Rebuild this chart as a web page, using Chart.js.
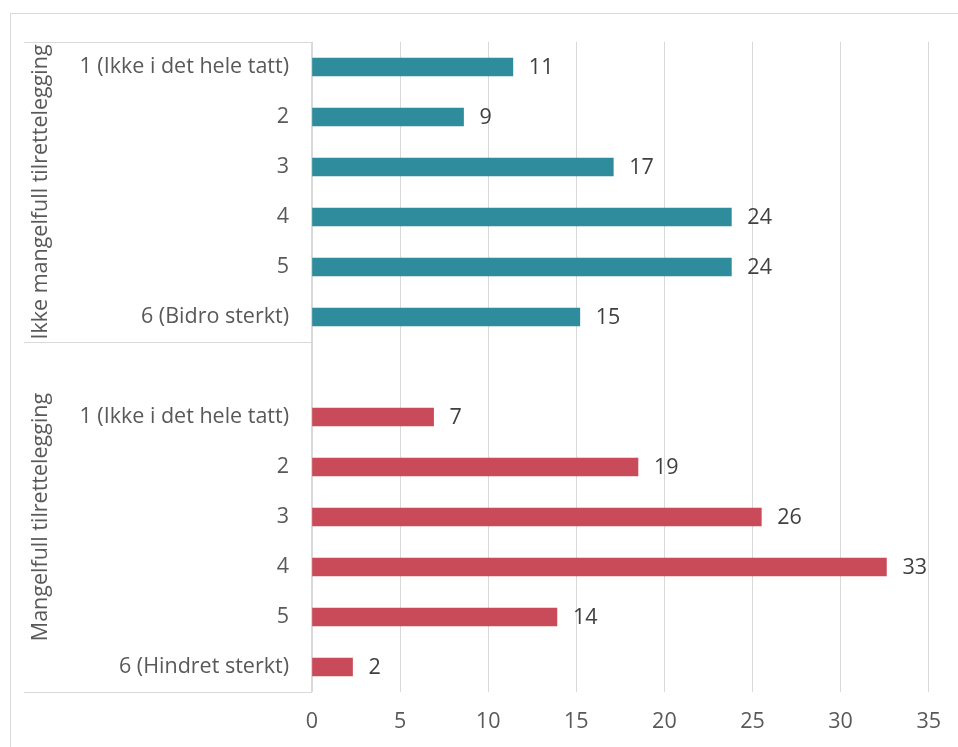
<!DOCTYPE html>
<html>
<head>
<meta charset="utf-8">
<script src="https://cdn.jsdelivr.net/npm/chart.js@4/dist/chart.umd.min.js"></script>
<style>
  html, body { margin: 0; padding: 0; background: #fff; }
  #wrap { width: 958px; height: 747px; position: relative; }
</style>
</head>
<body>
<div id="wrap"><canvas id="chart"></canvas></div>
<script>
// Category labels (blank row separates the two groups)
const categories = [
    '1 (Ikke i det hele tatt)', '2', '3', '4', '5', '6 (Bidro sterkt)',
    '',
    '1 (Ikke i det hele tatt)', '2', '3', '4', '5', '6 (Hindret sterkt)'
];
const groupNames = ['Ikke mangelfull tilrettelegging', 'Mangelfull tilrettelegging'];

// Values
const ikkeMangelfull = [11.4, 8.6, 17.1, 23.8, 23.8, 15.2];
const mangelfull = [6.9, 18.5, 25.5, 32.6, 13.9, 2.3];

const xTicks = [0, 5, 10, 15, 20, 25, 30, 35];

const FONT = '"Open Sans", Lato, sans-serif';
const FSIZE = 21.5;
const GRID = '#d9d9d9';

// pad the two series onto the shared category axis
const series1 = ikkeMangelfull.concat(Array(7).fill(null));
const series2 = Array(7).fill(null).concat(mangelfull);

// Excel-style frame, group labels and grouping lines
const frame = {
    id: 'frame',
    beforeDraw(chart) {
        const ctx = chart.ctx;
        ctx.save();
        ctx.strokeStyle = GRID;
        ctx.lineWidth = 1;
        ctx.strokeRect(10.5, 13.5, 1000, 1000);
        ctx.restore();
    },
    afterDraw(chart) {
        const ctx = chart.ctx;
        const y = chart.scales.y;
        const area = chart.chartArea;
        const half = (y.getPixelForValue(1) - y.getPixelForValue(0)) / 2;
        const top = area.top;
        const mid = y.getPixelForValue(6) - half;
        const bottom = area.bottom;
        ctx.save();
        ctx.strokeStyle = GRID;
        ctx.lineWidth = 1;
        [top, mid, bottom].forEach(py => {
            ctx.beginPath();
            ctx.moveTo(24, Math.round(py) + 0.5);
            ctx.lineTo(area.left, Math.round(py) + 0.5);
            ctx.stroke();
        });
        ctx.beginPath();
        ctx.moveTo(Math.round(area.left) - 0.5, top);
        ctx.lineTo(Math.round(area.left) - 0.5, bottom);
        ctx.stroke();

        ctx.fillStyle = '#595959';
        ctx.font = FSIZE + 'px ' + FONT;
        ctx.textAlign = 'center';
        ctx.textBaseline = 'middle';
        const centers = [(top + mid) / 2, (mid + bottom) / 2];
        centers.forEach((cy, i) => {
            ctx.save();
            ctx.translate(41, cy);
            ctx.rotate(-Math.PI / 2);
            ctx.fillText(groupNames[i], 0, 0);
            ctx.restore();
        });

        // value labels at bar ends
        ctx.fillStyle = '#404040';
        ctx.textAlign = 'left';
        chart.data.datasets.forEach((ds, di) => {
            const meta = chart.getDatasetMeta(di);
            meta.data.forEach((bar, i) => {
                const v = ds.data[i];
                if (v === null) return;
                ctx.fillText(String(Math.round(v)), bar.x + 16, bar.y + 1);
            });
        });
        ctx.restore();
    }
};

new Chart(document.getElementById('chart'), {
    type: 'bar',
    data: {
        labels: categories,
        datasets: [{
            label: groupNames[0],
            data: series1,
            backgroundColor: '#2e8c9d',
            barThickness: 18
        }, {
            label: groupNames[1],
            data: series2,
            backgroundColor: '#c94a58',
            barThickness: 18
        }]
    },
    options: {
        indexAxis: 'y',
        responsive: true,
        maintainAspectRatio: false,
        animation: false,
        layout: { padding: { top: 42, right: 28, left: 0, bottom: 0 } },
        plugins: {
            legend: { display: false },
            tooltip: { enabled: false }
        },
        scales: {
            x: {
                stacked: true,
                min: 0,
                max: 35,
                afterBuildTicks(scale) {
                    scale.ticks = xTicks.map(v => ({ value: v }));
                },
                afterFit(scale) { scale.height = 55; },
                grid: { color: GRID, drawTicks: false },
                border: { display: false },
                ticks: {
                    color: '#595959',
                    padding: 17,
                    font: { family: FONT, size: FSIZE }
                }
            },
            y: {
                stacked: true,
                afterFit(scale) { scale.width = 312; },
                grid: { display: false, drawTicks: false },
                border: { display: false },
                ticks: {
                    color: '#595959',
                    padding: 23,
                    autoSkip: false,
                    font: { family: FONT, size: FSIZE }
                }
            }
        }
    },
    plugins: [frame]
});
</script>
</body>
</html>
